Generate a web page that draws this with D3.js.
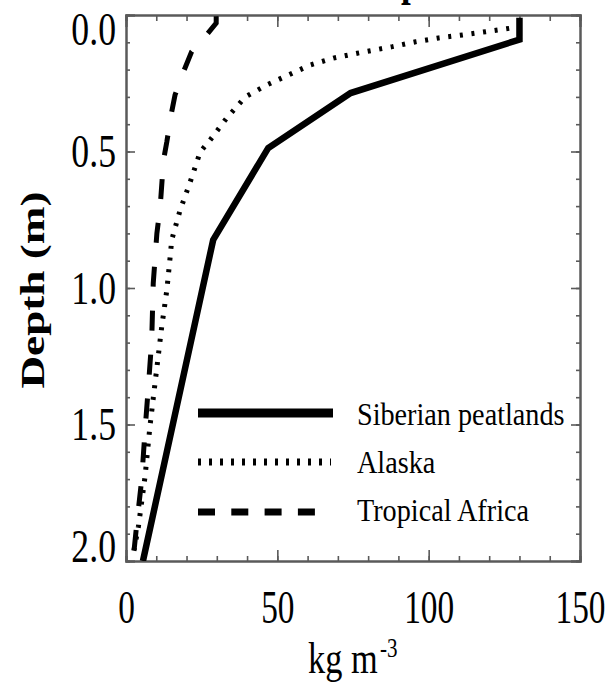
<!DOCTYPE html>
<html>
<head>
<meta charset="utf-8">
<script src="https://cdn.jsdelivr.net/npm/d3@7"></script>
<style>
  html, body { margin: 0; padding: 0; background: #fff; }
  svg { display: block; }
  text { font-family: "Liberation Serif", "Times New Roman", serif; fill: #000; }
</style>
</head>
<body>
<svg id="chart" width="608" height="684"></svg>
<script>
// ---- data ----
const titleText = "Soil carbon profile";
const xLabel = "kg m";
const xLabelSup = "-3";
const yLabel = "Depth (m)";
const xTickValues = [0, 50, 100, 150];
const xTickLabels = ["0", "50", "100", "150"];
const yTickValues = [0.0, 0.5, 1.0, 1.5, 2.0];
const yTickLabels = ["0.0", "0.5", "1.0", "1.5", "2.0"];
const seriesNames = ["Siberian peatlands", "Alaska", "Tropical Africa"];

// [kg m-3, depth m]
const siberian = [
  [130, 0.01], [130, 0.09], [74.2, 0.286], [47, 0.487], [28.8, 0.824], [5.6, 2.0]
];
const alaska = [
  [126.6, 0.049], [118.9, 0.061], [111.2, 0.073], [103.3, 0.084], [95.7, 0.098],
  [88, 0.116], [76.4, 0.14], [68.5, 0.158], [60.9, 0.183], [53.6, 0.22],
  [46.6, 0.256], [39.4, 0.30], [33.3, 0.377], [27.8, 0.458], [24.5, 0.502],
  [21.2, 0.612], [17.9, 0.714], [15.1, 0.824], [14.6, 0.885], [13.5, 1.007],
  [11.8, 1.142], [9.6, 1.348], [7.9, 1.508], [6.3, 1.69], [4.1, 1.874], [2.3, 1.98]
];
const tropical = [
  [29.8, 0.005], [29.8, 0.03], [26.6, 0.073], [21.7, 0.134], [19, 0.208],
  [16.2, 0.293], [14.9, 0.366], [13.5, 0.464], [12.4, 0.531], [11.3, 0.702],
  [10.2, 0.80], [9.0, 0.983], [8.5, 1.19], [7.4, 1.36], [6.3, 1.52],
  [5.2, 1.70], [3.5, 1.87], [2.4, 1.99]
];

// ---- layout ----
const L = 126, R = 580, T = 15, B = 561;
const svg = d3.select("#chart");
const x = d3.scaleLinear().domain([0, 150]).range([L, R]);
const y = d3.scaleLinear().domain([0, 2]).range([T, B]);
const axisColor = "#5a5a5a";

// horizontally condense a text element around its own x anchor
function condense(sel, k) {
  sel.each(function () {
    const t = d3.select(this);
    const x0 = +t.attr("x") || 0;
    t.attr("x", x0 / k).attr("transform", `scale(${k},1)`);
  });
}

// minor ticks
const xMinor = d3.range(0, 151, 10);
const yMinor = d3.range(0, 2.0001, 0.1).map(v => +v.toFixed(2));

function styleAxis(g) {
  g.select(".domain").attr("stroke", axisColor).attr("stroke-width", 2);
  g.selectAll(".tick line").attr("stroke", axisColor).attr("stroke-width", 1.6);
}

// bottom minor + major
svg.append("g").attr("transform", `translate(0,${B})`)
  .call(d3.axisBottom(x).tickValues(xMinor).tickSize(-5).tickFormat(""))
  .call(styleAxis);
const xAx = svg.append("g").attr("transform", `translate(0,${B})`)
  .call(d3.axisBottom(x).tickValues(xTickValues).tickSize(-11).tickPadding(29)
    .tickFormat((d, i) => xTickLabels[i]))
  .call(styleAxis);
xAx.selectAll("text").attr("font-size", 47).attr("font-family", "Liberation Serif").attr("fill", "#000");
// top
svg.append("g").attr("transform", `translate(0,${T})`)
  .call(d3.axisTop(x).tickValues(xMinor).tickSize(-6).tickFormat(""))
  .call(styleAxis);
svg.append("g").attr("transform", `translate(0,${T})`)
  .call(d3.axisTop(x).tickValues(xTickValues).tickSize(-12).tickFormat(""))
  .call(styleAxis);
// left
svg.append("g").attr("transform", `translate(${L},0)`)
  .call(d3.axisLeft(y).tickValues(yMinor).tickSize(-4).tickFormat(""))
  .call(styleAxis);
const yAx = svg.append("g").attr("transform", `translate(${L},0)`)
  .call(d3.axisLeft(y).tickValues(yTickValues).tickSize(-9).tickPadding(10)
    .tickFormat((d, i) => yTickLabels[i]))
  .call(styleAxis);
yAx.selectAll("text").attr("font-size", 47).attr("font-family", "Liberation Serif").attr("fill", "#000");
// nudge end labels inward as in reference
yAx.selectAll(".tick").filter(d => d === 0).select("text").attr("y", 14);
yAx.selectAll(".tick").filter(d => d === 2).select("text").attr("y", -15);
// right
svg.append("g").attr("transform", `translate(${R},0)`)
  .call(d3.axisRight(y).tickValues(yMinor).tickSize(-4).tickFormat(""))
  .call(styleAxis);
svg.append("g").attr("transform", `translate(${R},0)`)
  .call(d3.axisRight(y).tickValues(yTickValues).tickSize(-9).tickFormat(""))
  .call(styleAxis);

condense(xAx.selectAll("text"), 0.71);
condense(yAx.selectAll("text"), 0.76);

// ---- lines ----
const line = d3.line().x(d => x(d[0])).y(d => y(d[1]));
svg.append("clipPath").attr("id", "plotclip")
  .append("rect").attr("x", L).attr("y", T).attr("width", R - L).attr("height", B - T);
const plot = svg.append("g").attr("clip-path", "url(#plotclip)");

plot.append("path").datum(tropical).attr("d", line)
  .attr("fill", "none").attr("stroke", "#000").attr("stroke-width", 5)
  .attr("stroke-dasharray", "20,24");
plot.append("path").datum(alaska).attr("d", line)
  .attr("fill", "none").attr("stroke", "#000").attr("stroke-width", 5)
  .attr("stroke-dasharray", "3,8.7");
plot.append("path").datum(siberian).attr("d", line)
  .attr("fill", "none").attr("stroke", "#000").attr("stroke-width", 6.5)
  .attr("stroke-linejoin", "miter");

// ---- legend ----
const legY = [413, 462, 512];
const legBase = [425, 473, 521];
const legX0 = 198;
const legEnds = [333, 331, 316];
const legStyles = [
  { w: 9, dash: null },
  { w: 7, dash: "3,8" },
  { w: 7, dash: "17,16.3" }
];
seriesNames.forEach((name, i) => {
  const p = svg.append("line")
    .attr("x1", legX0).attr("x2", legEnds[i])
    .attr("y1", legY[i]).attr("y2", legY[i])
    .attr("stroke", "#000").attr("stroke-width", legStyles[i].w);
  if (legStyles[i].dash) p.attr("stroke-dasharray", legStyles[i].dash);
  svg.append("text").attr("x", 357).attr("y", legBase[i])
    .attr("font-size", 31).text(name).call(condense, 0.91);
});

// ---- axis titles ----
svg.append("text").attr("x", 308).attr("y", 673).attr("font-size", 44)
  .text(xLabel).call(condense, 0.78);
svg.append("text").attr("x", 380).attr("y", 657).attr("font-size", 27)
  .text(xLabelSup).call(condense, 0.78);

svg.append("text")
  .attr("transform", `translate(44,290) rotate(-90) scale(1.33,1)`)
  .attr("text-anchor", "middle")
  .attr("font-size", 34).attr("font-weight", "bold")
  .text(yLabel);

// ---- title (mostly cut off above the picture, as in the reference) ----
const title = svg.append("text").attr("x", 0).attr("y", -5)
  .attr("font-size", 46).attr("font-weight", "bold").text(titleText);
const pIdx = titleText.indexOf("p");
const pStart = title.node().getStartPositionOfChar(pIdx).x;
title.attr("x", 401 / 0.76 - pStart).attr("transform", "scale(0.76,1)");
</script>
</body>
</html>
